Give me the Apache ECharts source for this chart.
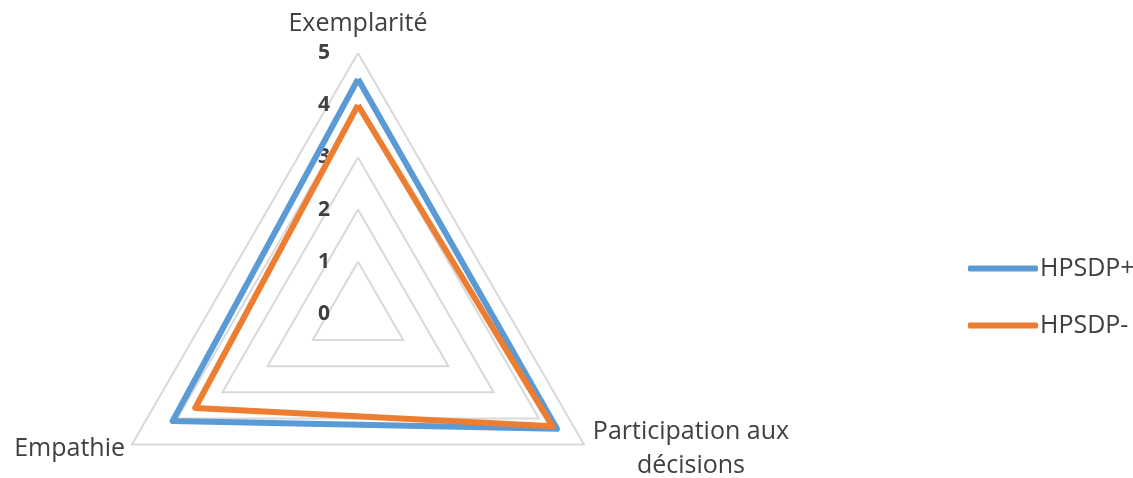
<!DOCTYPE html>
<html>
<head>
<meta charset="utf-8">
<script src="https://cdn.jsdelivr.net/npm/echarts@6/dist/echarts.min.js"></script>
<style>
  html, body { margin: 0; padding: 0; background: #fff; }
  #chart { width: 1133px; height: 478px; }
</style>
</head>
<body>
<div id="chart"></div>
<script>
  // ECharts lays out indicators counter-clockwise from the top
  let indicators = ['Exemplarité', 'Empathie', 'Participation aux\ndécisions']
  let seriesNames = ['HPSDP+', 'HPSDP-']
  let hpsdpPlus = [4.5, 4.1, 4.4]
  let hpsdpMinus = [4.0, 3.6, 4.3]
  let axisMax = 5
  let colors = ['#5b9bd5', '#ed7d31']

  let font = '"Open Sans", "Noto Sans", sans-serif'
  let chart = echarts.init(document.getElementById('chart'))

  let indicatorOpt = indicators.map((name, i) => {
    let item = { name: name, min: 0, max: axisMax }
    if (i === 0) {
      item.axisLabel = {
        show: true,
        fontFamily: font,
        fontSize: 21,
        fontWeight: 'bold',
        color: '#404040',
        margin: 28,
        showMinLabel: true,
        showMaxLabel: true
      }
    }
    return item
  })

  let option = {
    animation: false,
    color: colors,
    legend: {
      orient: 'vertical',
      left: 963,
      top: 251,
      itemWidth: 70,
      itemHeight: 6,
      itemGap: 32,
      icon: 'roundRect',
      textStyle: { fontFamily: font, fontSize: 25, color: '#404040', padding: [0, 0, 0, -3] },
      data: seriesNames
    },
    radar: {
      center: [358, 314],
      radius: 261,
      startAngle: 90,
      splitNumber: 5,
      shape: 'polygon',
      nameGap: 8,
      axisName: {
        fontFamily: font,
        fontSize: 25,
        color: '#404040',
        formatter: function (name) {
          if (name.indexOf('\n') >= 0) {
            let parts = name.split('\n')
            return '{a|' + parts[0] + '}\n{a|' + parts[1] + '}'
          }
          if (name === indicators[0]) return '{top|' + name + '}'
          return name
        },
        rich: {
          a: { fontFamily: font, fontSize: 25, color: '#404040', width: 200, align: 'center', lineHeight: 34 },
          top: { fontFamily: font, fontSize: 25, color: '#404040', padding: [0, 0, 9, 0] }
        }
      },
      axisLine: { show: false },
      axisTick: { show: false },
      splitArea: { show: false },
      splitLine: { lineStyle: { color: '#d9d9d9', width: 2 } },
      indicator: indicatorOpt
    },
    series: [{
      type: 'radar',
      symbol: 'none',
      data: [
        { name: seriesNames[0], value: hpsdpPlus, lineStyle: { color: colors[0], width: 6 } },
        { name: seriesNames[1], value: hpsdpMinus, lineStyle: { color: colors[1], width: 6 } }
      ]
    }]
  }
  chart.setOption(option)
</script>
</body>
</html>
